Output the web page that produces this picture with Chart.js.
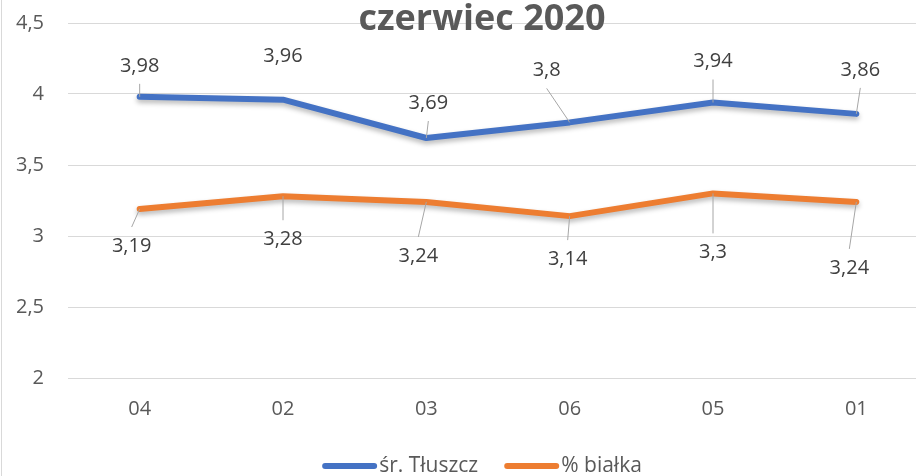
<!DOCTYPE html>
<html>
<head>
<meta charset="utf-8">
<script src="https://cdn.jsdelivr.net/npm/chart.js@4/dist/chart.umd.min.js"></script>
<style>
  html, body { margin: 0; padding: 0; background: #fff; overflow: hidden; }
  #wrap { width: 930px; height: 476px; }
</style>
</head>
<body>
<div id="wrap"><canvas id="chart" width="930" height="476"></canvas></div>
<script>
// data
const categories = ["04", "02", "03", "06", "05", "01"];
const fatValues = [3.98, 3.96, 3.69, 3.8, 3.94, 3.86];
const proteinValues = [3.19, 3.28, 3.24, 3.14, 3.3, 3.24];
const seriesNames = ["śr. Tłuszcz", "% białka"];
const chartTitle = "czerwiec 2020";

// label placement (pixels relative to point) + leader flags
const fatLabelOffsets = [[0, -31], [0, -43], [2, -35], [-23, -52], [0, -41], [4, -44]];
const fatLeaders = [true, false, true, true, true, true];
const proteinLabelOffsets = [[-8, 37], [0, 43], [-8, 54], [-2, 43], [0, 59], [-7, 66]];
const proteinLeaders = [true, true, true, true, true, true];

const FONT = "'Open Sans', 'Liberation Sans', sans-serif";
const fmt = (v) => String(v).replace(".", ",");

const shadowPlugin = {
  id: "lineShadow",
  beforeDatasetDraw(chart) {
    const ctx = chart.ctx;
    ctx.save();
    ctx.shadowColor = "rgba(0,0,0,0.28)";
    ctx.shadowBlur = 5;
    ctx.shadowOffsetY = 3;
  },
  afterDatasetDraw(chart) {
    chart.ctx.restore();
  },
};

const labelPlugin = {
  id: "pointLabels",
  afterDatasetsDraw(chart) {
    const ctx = chart.ctx;
    chart.data.datasets.forEach((ds, di) => {
      const meta = chart.getDatasetMeta(di);
      meta.data.forEach((pt, i) => {
        const off = ds.labelOffsets[i];
        const lx = pt.x + off[0];
        const ly = pt.y + off[1];
        if (ds.leaders[i]) {
          const sy = off[1] < 0 ? ly + 18 : ly - 19;
          ctx.save();
          ctx.strokeStyle = "#a6a6a6";
          ctx.lineWidth = 1;
          ctx.beginPath();
          ctx.moveTo(lx, sy);
          ctx.lineTo(pt.x, pt.y);
          ctx.stroke();
          ctx.restore();
        }
        ctx.save();
        ctx.font = "20px " + FONT;
        ctx.fillStyle = "#404040";
        ctx.textAlign = "center";
        ctx.textBaseline = "middle";
        ctx.fillText(fmt(ds.data[i]), lx, ly);
        ctx.restore();
      });
    });
  },
};

const decorPlugin = {
  id: "decor",
  beforeDraw(chart) {
    const ctx = chart.ctx;
    ctx.save();
    ctx.strokeStyle = "#d9d9d9";
    ctx.lineWidth = 1;
    ctx.beginPath();
    ctx.moveTo(1.5, 0);
    ctx.lineTo(1.5, chart.height);
    ctx.stroke();
    ctx.restore();
  },
  afterDraw(chart) {
    const ctx = chart.ctx;
    const cx = 482;
    // title
    ctx.save();
    ctx.font = "bold 36px " + FONT;
    ctx.fillStyle = "#595959";
    ctx.textAlign = "center";
    ctx.textBaseline = "alphabetic";
    ctx.fillText(chartTitle, cx, 30);
    ctx.restore();
    // legend
    ctx.save();
    ctx.font = "21px " + FONT;
    const sw = 55, gap = 2, itemGap = 26;
    const items = chart.data.datasets.map((d) => ({
      label: d.label,
      color: d.borderColor,
      w: sw + gap + ctx.measureText(d.label).width,
    }));
    const total = items.reduce((s, it) => s + it.w, 0) + itemGap * (items.length - 1);
    let x = cx - total / 2;
    const y = 466;
    items.forEach((it) => {
      ctx.strokeStyle = it.color;
      ctx.lineWidth = 6;
      ctx.lineCap = "round";
      ctx.beginPath();
      ctx.moveTo(x + 3, y);
      ctx.lineTo(x + sw - 3, y);
      ctx.stroke();
      ctx.fillStyle = "#595959";
      ctx.textAlign = "left";
      ctx.textBaseline = "middle";
      ctx.fillText(it.label, x + sw + gap, y);
      x += it.w + itemGap;
    });
    ctx.restore();
  },
};

new Chart(document.getElementById("chart"), {
  type: "line",
  data: {
    labels: categories,
    datasets: [
      {
        label: seriesNames[0],
        data: fatValues,
        borderColor: "#4472C4",
        backgroundColor: "#4472C4",
        labelOffsets: fatLabelOffsets,
        leaders: fatLeaders,
      },
      {
        label: seriesNames[1],
        data: proteinValues,
        borderColor: "#ED7D31",
        backgroundColor: "#ED7D31",
        labelOffsets: proteinLabelOffsets,
        leaders: proteinLeaders,
      },
    ],
  },
  options: {
    responsive: false,
    animation: false,
    devicePixelRatio: 1,
    layout: { padding: { top: 23, right: 2, left: 0, bottom: 0 } },
    elements: {
      line: {
        borderWidth: 6,
        tension: 0,
        fill: false,
        borderCapStyle: "round",
        borderJoinStyle: "round",
      },
      point: { radius: 0, hoverRadius: 0 },
    },
    plugins: {
      legend: { display: false },
      title: { display: false },
      tooltip: { enabled: false },
    },
    scales: {
      x: {
        offset: true,
        grid: { display: false, drawTicks: false },
        border: { display: false },
        ticks: {
          color: "#595959",
          font: { size: 20, family: FONT },
          padding: 19,
          maxRotation: 0,
        },
        afterFit: (s) => { s.height = 98; s.paddingLeft = 0; s.paddingRight = 0; },
      },
      y: {
        min: 2,
        max: 4.5,
        grid: { color: "#d9d9d9", lineWidth: 1, drawTicks: false },
        border: { display: false },
        ticks: {
          stepSize: 0.5,
          color: "#595959",
          font: { size: 20, family: FONT },
          padding: 24,
          callback: (v) => fmt(v),
        },
        afterFit: (s) => { s.width = 68; s.paddingTop = 0; s.paddingBottom = 0; },
      },
    },
  },
  plugins: [shadowPlugin, labelPlugin, decorPlugin],
});
</script>
</body>
</html>
